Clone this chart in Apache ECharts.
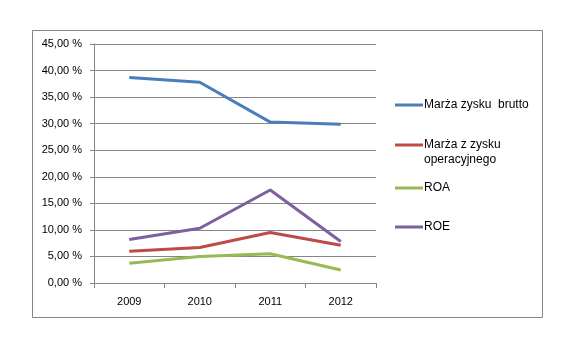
<!DOCTYPE html>
<html><head><meta charset="utf-8">
<script src="https://cdn.jsdelivr.net/npm/echarts@6/dist/echarts.min.js"></script>
<style>html,body{margin:0;padding:0;background:#fff}#c{width:579px;height:355px}</style>
</head><body><div id="c"></div>
<script>
const categories = ['2009', '2010', '2011', '2012'];
const marzaBrutto = [38.7, 37.8, 30.3, 29.9];
const marzaOperacyjna = [6.0, 6.7, 9.5, 7.1];
const roa = [3.7, 5.0, 5.5, 2.45];
const roe = [8.2, 10.3, 17.5, 7.8];
const seriesNames = ['Marża zysku  brutto', 'Marża z zysku operacyjnego', 'ROA', 'ROE'];
const colors = ['#4A7EBB', '#BE4B48', '#98B954', '#7D60A0'];

const font = 'Liberation Sans';
const chart = echarts.init(document.getElementById('c'), null, {renderer: 'canvas'});
const legendTops = [92, 132, 175, 214];
const legends = seriesNames.map((n, i) => ({
  data: [n], left: 390, top: legendTops[i], orient: 'vertical',
  itemWidth: 28, itemHeight: 3, itemGap: 0, icon: 'rect',
  textStyle: {fontFamily: font, fontSize: 12, color: '#000', padding: [0, 0, 0, -4], lineHeight: 16},
  formatter: n2 => n2 === 'Marża z zysku operacyjnego' ? 'Marża z zysku' : n2
}));
const data = [marzaBrutto, marzaOperacyjna, roa, roe];
chart.setOption({
  animation: false,
  graphic: [
    {type: 'rect', shape: {x: 32.5, y: 30.5, width: 510, height: 287}, style: {fill: 'none', stroke: '#868686', lineWidth: 1}},
    {type: 'text', left: 424, top: 154, style: {text: 'operacyjnego', fontFamily: font, fontSize: 12, fill: '#000'}}
  ],
  grid: {left: 94, right: 203, top: 44, bottom: 72},
  legend: legends,
  xAxis: {
    type: 'category', data: categories, boundaryGap: true,
    axisLine: {lineStyle: {color: '#868686'}},
    axisTick: {show: true, length: 5, lineStyle: {color: '#868686'}},
    axisLabel: {fontFamily: font, fontSize: 11, color: '#000', margin: 13}
  },
  yAxis: {
    type: 'value', min: 0, max: 45, interval: 5,
    axisLine: {show: true, lineStyle: {color: '#868686'}},
    axisTick: {show: true, length: 4, lineStyle: {color: '#868686'}},
    splitLine: {lineStyle: {color: '#868686'}},
    axisLabel: {fontFamily: font, fontSize: 11, color: '#000', margin: 12,
      formatter: v => v.toFixed(2).replace('.', ',') + ' %'}
  },
  series: seriesNames.map((n, i) => ({
    name: n, type: 'line', data: data[i], symbol: 'none',
    lineStyle: {color: colors[i], width: 3}, itemStyle: {color: colors[i]}
  }))
});
</script></body></html>
